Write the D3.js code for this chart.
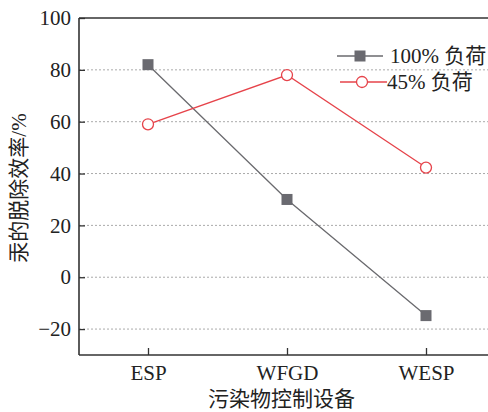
<!DOCTYPE html>
<html>
<head>
<meta charset="utf-8">
<script src="https://cdn.jsdelivr.net/npm/d3@7"></script>
<style>
    body { margin: 0; background: #fff; }
    svg text { font-family: "Liberation Serif", "Noto Sans CJK SC", serif; fill: #222; }
</style>
</head>
<body>
<div id="chart"></div>
<script>

// data
let categories = ["ESP", "WFGD", "WESP"];
let load100 = [82, 30, -14.8];
let load45 = [59, 78, 42.3];
let yTicks = [-20, 0, 20, 40, 60, 80, 100];
let seriesNames = ["100% 负荷", "45% 负荷"];

let width = 488, height = 412;
let margin = {top: 18, right: 0, bottom: 57, left: 79};

let svg = d3.select("#chart").append("svg")
    .attr("width", width)
    .attr("height", height);

// scales
let y = d3.scaleLinear()
    .domain([-30, 100])
    .range([height - margin.bottom, margin.top]);

let x = d3.scalePoint()
    .domain(categories)
    .range([148, 426]);

// dotted grid
svg.append("g")
    .selectAll("line")
    .data(yTicks.filter(d => d < 100))
    .enter()
    .append("line")
    .attr("x1", margin.left)
    .attr("x2", width)
    .attr("y1", d => y(d))
    .attr("y2", d => y(d))
    .attr("stroke", "#aaa")
    .attr("stroke-width", 1)
    .attr("stroke-dasharray", "2,2");

// y axis, ticks point inwards
let yAxis = svg.append("g")
    .attr("transform", `translate(${margin.left},0)`)
    .call(d3.axisLeft(y).tickValues(yTicks).tickSizeInner(-6).tickSizeOuter(0).tickPadding(8)
        .tickFormat(d => d < 0 ? "\u2212" + Math.abs(d) : d));
yAxis.select(".domain").remove();
yAxis.selectAll("line").attr("stroke", "#333").attr("stroke-width", 1.3);
yAxis.selectAll("text").attr("font-size", 21);

// x axis
let xAxis = svg.append("g")
    .attr("transform", `translate(0,${height - margin.bottom})`)
    .call(d3.axisBottom(x).tickSizeInner(-7).tickSizeOuter(0).tickPadding(10));
xAxis.select(".domain").remove();
xAxis.selectAll("line").attr("stroke", "#333").attr("stroke-width", 1.3);
xAxis.selectAll("text").attr("font-size", 21);

// frame: left, top, bottom
let frame = svg.append("g").attr("stroke", "#333").attr("stroke-width", 1.6).attr("fill", "none");
frame.append("line").attr("x1", margin.left).attr("x2", margin.left)
    .attr("y1", margin.top).attr("y2", height - margin.bottom);
frame.append("line").attr("x1", margin.left).attr("x2", width)
    .attr("y1", margin.top).attr("y2", margin.top);
frame.append("line").attr("x1", margin.left).attr("x2", width)
    .attr("y1", height - margin.bottom).attr("y2", height - margin.bottom);

// lines
let line = d3.line()
    .x((d, i) => x(categories[i]))
    .y(d => y(d));

svg.append("path")
    .datum(load100)
    .attr("d", line)
    .attr("fill", "none")
    .attr("stroke", "#6a6a6e")
    .attr("stroke-width", 1.3);

svg.append("path")
    .datum(load45)
    .attr("d", line)
    .attr("fill", "none")
    .attr("stroke", "#e6434a")
    .attr("stroke-width", 1.3);

// markers
svg.append("g")
    .selectAll("rect")
    .data(load100)
    .enter()
    .append("rect")
    .attr("x", (d, i) => x(categories[i]) - 5.5)
    .attr("y", d => y(d) - 5.5)
    .attr("width", 11)
    .attr("height", 11)
    .attr("fill", "#6a6a70");

svg.append("g")
    .selectAll("circle")
    .data(load45)
    .enter()
    .append("circle")
    .attr("cx", (d, i) => x(categories[i]))
    .attr("cy", d => y(d))
    .attr("r", 5.5)
    .attr("fill", "#fff")
    .attr("stroke", "#e6434a")
    .attr("stroke-width", 1.3);

// legend
let legend = svg.append("g").attr("class", "legend");
let lg1 = legend.append("g").attr("transform", "translate(337,56)");
lg1.append("line").attr("x1", 0).attr("x2", 46).attr("stroke", "#6a6a6e").attr("stroke-width", 1.3);
lg1.append("rect").attr("x", 17.5).attr("y", -5.5).attr("width", 11).attr("height", 11).attr("fill", "#6a6a70");
lg1.append("text").attr("x", 53).attr("y", 7).attr("font-size", 21).text(seriesNames[0]);

let lg2 = legend.append("g").attr("transform", "translate(340,82)");
lg2.append("line").attr("x1", 0).attr("x2", 47).attr("stroke", "#e6434a").attr("stroke-width", 1.3);
lg2.append("circle").attr("cx", 22).attr("cy", 0).attr("r", 5.5)
    .attr("fill", "#fff").attr("stroke", "#e6434a").attr("stroke-width", 1.3);
lg2.append("text").attr("x", 47).attr("y", 7).attr("font-size", 21).text(seriesNames[1]);

// axis titles
svg.append("text")
    .attr("x", (margin.left + width) / 2 - 2)
    .attr("y", 406)
    .attr("text-anchor", "middle")
    .attr("font-size", 21)
    .text("污染物控制设备");

svg.append("text")
    .attr("transform", `translate(26,${188}) rotate(-90)`)
    .attr("text-anchor", "middle")
    .attr("font-size", 21)
    .text("汞的脱除效率/%");

</script>
</body>
</html>
